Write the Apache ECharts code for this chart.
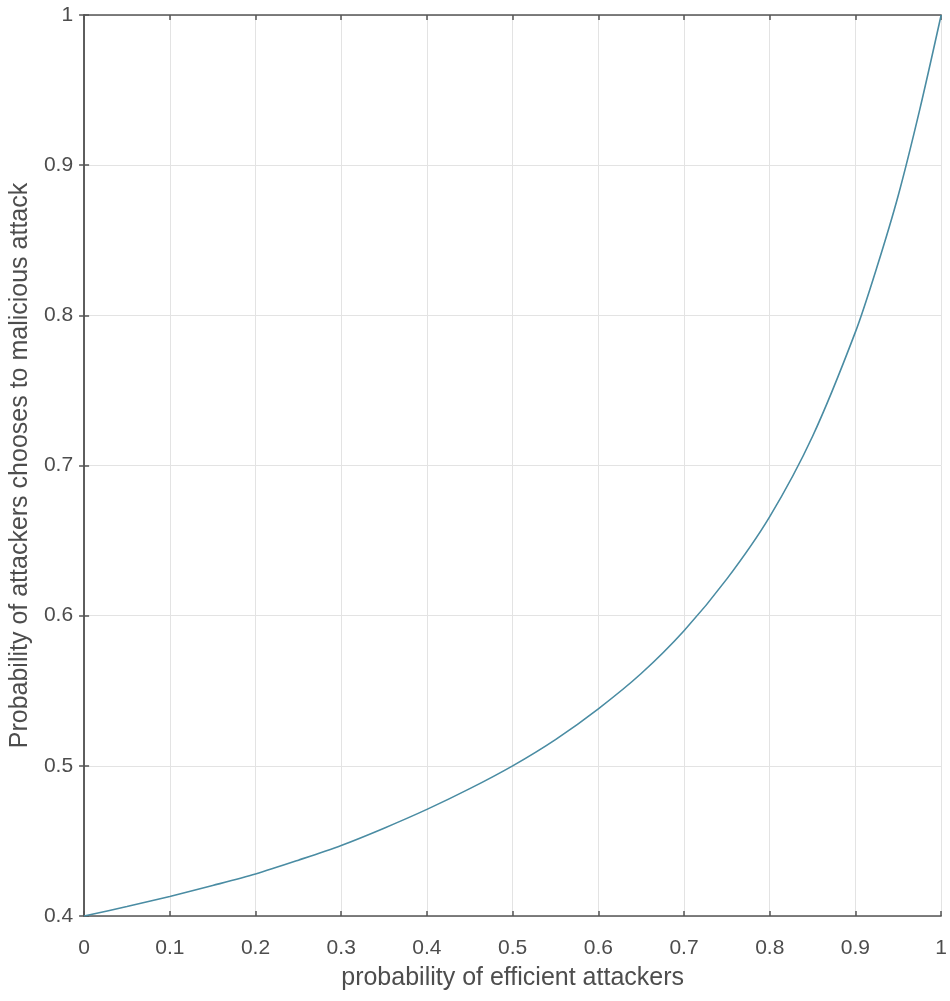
<!DOCTYPE html>
<html><head><meta charset="utf-8">
<script src="https://cdn.jsdelivr.net/npm/echarts@6/dist/echarts.min.js"></script>
<style>html,body{margin:0;padding:0;background:#fff}#c{width:950px;height:1001px}</style>
</head><body><div id="c"></div>
<script>
const xValues = [0, 0.05, 0.1, 0.15, 0.2, 0.25, 0.3, 0.35, 0.4, 0.45, 0.5, 0.55, 0.6, 0.65, 0.7, 0.75, 0.8, 0.85, 0.9, 0.925, 0.95, 0.975, 1.0];
const yValues = [0.400, 0.4063, 0.413, 0.4203, 0.428, 0.4372, 0.447, 0.4585, 0.471, 0.4848, 0.500, 0.5175, 0.538, 0.5615, 0.590, 0.6245, 0.666, 0.7195, 0.789, 0.832, 0.880, 0.937, 1.000];
const xName = 'probability of efficient attackers';
const yName = 'Probability of attackers chooses to malicious attack';

const font = 'Liberation Sans, Arial, sans-serif';
const axisColor = '#555555';
const labelColor = '#4d4d4d';
const gridColor = '#e3e3e3';

const chart = echarts.init(document.getElementById('c'), null, {renderer: 'canvas'});
const fmt = v => (v === 0 || v === 1) ? String(v) : String(+v.toFixed(1));
const baseX = {
  type: 'value', min: 0, max: 1, interval: 0.1,
  axisLine: {show: true, lineStyle: {color: axisColor, width: 1.5}},
  axisTick: {show: true, inside: true, length: 5, lineStyle: {color: axisColor, width: 1.5}},
  splitLine: {show: false}
};
const baseY = {
  type: 'value', min: 0.4, max: 1, interval: 0.1,
  axisLine: {show: true, lineStyle: {color: axisColor, width: 1.5}},
  axisTick: {show: true, inside: true, length: 5, lineStyle: {color: axisColor, width: 1.5}},
  splitLine: {show: false}
};
chart.setOption({
  animation: false,
  backgroundColor: '#ffffff',
  grid: {left: 80, right: 7, top: 15, bottom: 85, containLabel: false},
  xAxis: [
    Object.assign({}, baseX, {
      position: 'bottom',
      name: xName, nameLocation: 'middle', nameGap: 50,
      nameTextStyle: {color: labelColor, fontSize: 25, fontFamily: font},
      axisLabel: {color: labelColor, fontSize: 21, fontFamily: font, margin: 22, formatter: fmt},
      splitLine: {show: true, lineStyle: {color: gridColor, width: 1}}
    }),
    Object.assign({}, baseX, {position: 'top', axisLabel: {show: false}})
  ],
  yAxis: [
    Object.assign({}, baseY, {
      position: 'left',
      name: yName, nameLocation: 'middle', nameGap: 51,
      nameTextStyle: {color: labelColor, fontSize: 25, fontFamily: font},
      axisLabel: {color: labelColor, fontSize: 21, fontFamily: font, margin: 11, formatter: fmt},
      splitLine: {show: true, lineStyle: {color: gridColor, width: 1}}
    }),
    Object.assign({}, baseY, {position: 'right', axisLabel: {show: false}})
  ],
  series: [{
    type: 'line',
    data: xValues.map((x, i) => [x, yValues[i]]),
    smooth: 0.3,
    showSymbol: false,
    lineStyle: {color: '#4a8ca3', width: 1.6},
    clip: true
  }]
});
</script>
</body></html>
